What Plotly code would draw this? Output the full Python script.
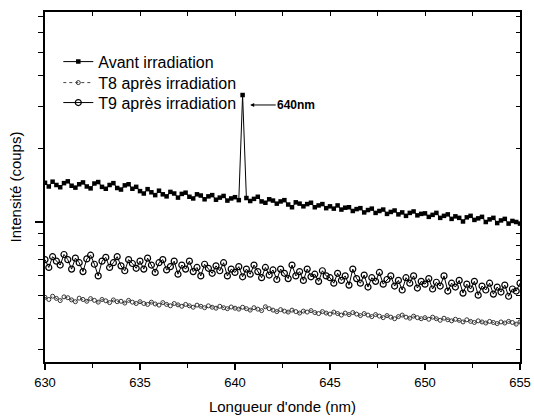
import numpy as np
import plotly.graph_objects as go

# Wavelength grid (nm), 0.2 nm sampling
wavelength = [round(630 + 0.2 * i, 1) for i in range(126)]

# Intensities (counts)
avant = [1450, 1400, 1465, 1420, 1390, 1445, 1470, 1410, 1385, 1430, 1455, 1400, 1375, 1440, 1460, 1395, 1370, 1420, 1445, 1380, 1360, 1415, 1430, 1370, 1395,
         1340, 1310, 1365, 1325, 1290, 1345, 1300, 1275, 1330, 1310, 1260, 1305, 1320, 1270, 1250, 1300, 1285, 1240, 1275, 1290, 1235, 1260, 1280, 1225, 1250,
         1265, 1230, 3330, 1255, 1220, 1245, 1270, 1215, 1200, 1240, 1225, 1190, 1215, 1230, 1180, 1150, 1205, 1190, 1160, 1185, 1200, 1150, 1170, 1185, 1140,
         1160, 1135, 1170, 1125, 1145, 1150, 1110, 1130, 1140, 1095, 1120, 1135, 1090, 1110, 1125, 1080, 1100, 1115, 1075, 1095, 1060, 1090, 1105, 1065, 1080,
         1085, 1050, 1070, 1090, 1040, 1060, 1075, 1030, 1055, 1040, 1005, 1045, 1060, 1020, 1035, 1050, 1000, 1025, 1040, 990, 1015, 1030, 985, 1010, 1000, 985]

t9 = [700, 650, 720, 690, 665, 735, 700, 640, 710, 680, 625, 705, 730, 670, 600, 690, 715, 650, 680, 720, 660, 630, 700, 675, 645,
      690, 640, 710, 665, 620, 680, 700, 635, 655, 690, 610, 665, 640, 690, 625, 650, 600, 670, 645, 615, 660, 630, 680, 600, 640,
      620, 655, 595, 640, 610, 665, 625, 590, 650, 605, 635, 580, 640, 615, 585, 665, 600, 625, 575, 640, 595, 610, 570, 630, 600,
      590, 560, 615, 575, 600, 550, 640, 585, 560, 605, 540, 590, 570, 620, 555, 580, 600, 545, 575, 525, 590, 560, 600, 535, 570,
      555, 585, 530, 565, 545, 600, 520, 560, 540, 575, 510, 555, 530, 570, 500, 545, 525, 560, 505, 540, 515, 550, 495, 530, 520, 560]

t8 = [490, 480, 495, 485, 475, 492, 488, 478, 470, 486, 480, 472, 484, 476, 468, 480, 474, 466, 478, 470, 472, 464, 476, 468, 462,
      470, 462, 458, 468, 460, 455, 466, 458, 452, 462, 456, 450, 458, 452, 446, 455, 450, 444, 452, 446, 442, 450, 444, 440, 447,
      442, 438, 446, 440, 434, 444, 438, 432, 448, 440, 434, 428, 436, 430, 426, 434, 428, 422, 430, 426, 432, 424, 420, 428, 422,
      418, 426, 420, 414, 422, 416, 424, 418, 412, 420, 414, 408, 416, 410, 404, 412, 406, 400, 408, 414, 406, 402, 410, 404, 400,
      404, 398, 406, 400, 394, 402, 396, 392, 398, 394, 388, 396, 390, 386, 392, 388, 384, 390, 386, 382, 388, 384, 390, 386, 380, 388]

x_ticks = [630, 635, 640, 645, 650, 655]
x_minor = [632.5, 637.5, 642.5, 647.5, 652.5]
y_major = [1000]
y_minor = [300, 400, 500, 600, 700, 800, 900, 2000, 3000, 4000, 5000, 6000, 7000]
peak_arrow_x = 640.8
peak_arrow_y = 3030
peak_label = "640nm"

FONT = "Liberation Sans, Arial, sans-serif"
X_RANGE = [630, 655]
Y_RANGE = [2.424, 3.864]

fig = go.Figure()
# T8 is drawn on the overlaying x2/y2 pair (identical ranges) so the top/right axes get rendered
fig.add_trace(go.Scatter(x=wavelength, y=t8, name="T8 après irradiation", mode="lines+markers", legend="legend2",
                         xaxis="x2", yaxis="y2",
                         line=dict(color="#444444", width=1, dash="dot"),
                         marker=dict(symbol="circle-open", size=4, color="#333333", line=dict(width=1))))
fig.add_trace(go.Scatter(x=wavelength, y=t9, name="T9 après irradiation", mode="lines+markers", legend="legend3",
                         line=dict(color="black", width=1),
                         marker=dict(symbol="circle-open", size=6, color="black", line=dict(width=1.2))))
fig.add_trace(go.Scatter(x=wavelength, y=avant, name="Avant irradiation", mode="lines+markers", legend="legend",
                         line=dict(color="black", width=1),
                         marker=dict(symbol="square", size=4.5, color="black")))

fig.add_annotation(x=peak_arrow_x, y=np.log10(peak_arrow_y), xref="x", yref="y", text="<b>" + peak_label + "</b>",
                   showarrow=True, ax=46, ay=0, arrowhead=2, arrowsize=0.8, arrowwidth=1, arrowcolor="black",
                   font=dict(family=FONT, size=12, color="black"))

leg_common = dict(x=0.028, xanchor="left", yanchor="middle", bgcolor="rgba(0,0,0,0)", borderwidth=0,
                  font=dict(family=FONT, size=16, color="black"))
fig.update_layout(
    template="none",
    width=534, height=418,
    margin=dict(l=45, r=14, t=12, b=56),
    paper_bgcolor="white", plot_bgcolor="rgba(0,0,0,0)",
    font=dict(family=FONT, color="black"),
    showlegend=True,
    legend=dict(y=0.858, **leg_common),
    legend2=dict(y=0.798, **leg_common),
    legend3=dict(y=0.741, **leg_common),
    # top / right frame with inward ticks (no minor ticks: all positions given as plain ticks)
    xaxis2=dict(overlaying="x", side="top", anchor="y2", range=X_RANGE, tickmode="array",
                tickvals=sorted(x_ticks + x_minor), showticklabels=False,
                ticks="inside", ticklen=4, tickwidth=1.3, tickcolor="black",
                showline=True, linecolor="black", linewidth=1.5, showgrid=False, zeroline=False, automargin=False),
    yaxis2=dict(overlaying="y", side="right", anchor="x2", type="log", range=Y_RANGE, tickmode="array",
                tickvals=sorted(y_major + y_minor), showticklabels=False,
                ticks="inside", ticklen=4, tickwidth=1.3, tickcolor="black",
                showline=True, linecolor="black", linewidth=1.5, showgrid=False, zeroline=False, automargin=False),
)
fig.update_layout(
    xaxis=dict(range=X_RANGE, tickvals=x_ticks, ticks="outside", ticklen=6, tickwidth=1.5, tickcolor="black",
               tickfont=dict(family=FONT, size=13, color="black"), ticklabelstandoff=2,
               minor=dict(tickvals=x_minor, ticks="outside", ticklen=4, tickwidth=1.2, tickcolor="black"),
               showline=True, linecolor="black", linewidth=1.5, mirror=False, showgrid=False, zeroline=False,
               automargin=False,
               title=dict(text="Longueur d'onde (nm)", font=dict(family=FONT, size=15), standoff=12)),
    yaxis=dict(type="log", range=Y_RANGE, tickvals=y_major, showticklabels=False,
               ticks="outside", ticklen=8, tickwidth=1.5, tickcolor="black",
               minor=dict(tickvals=y_minor, ticks="outside", ticklen=5, tickwidth=1.2, tickcolor="black"),
               showline=True, linecolor="black", linewidth=1.5, mirror=False, showgrid=False, zeroline=False,
               automargin=False,
               title=dict(text="Intensité (coups)", font=dict(family=FONT, size=15), standoff=10)),
)

fig.write_html("out.html", config={"displayModeBar": False},
               post_script="document.body.style.margin='0';document.body.style.overflow='hidden';")
